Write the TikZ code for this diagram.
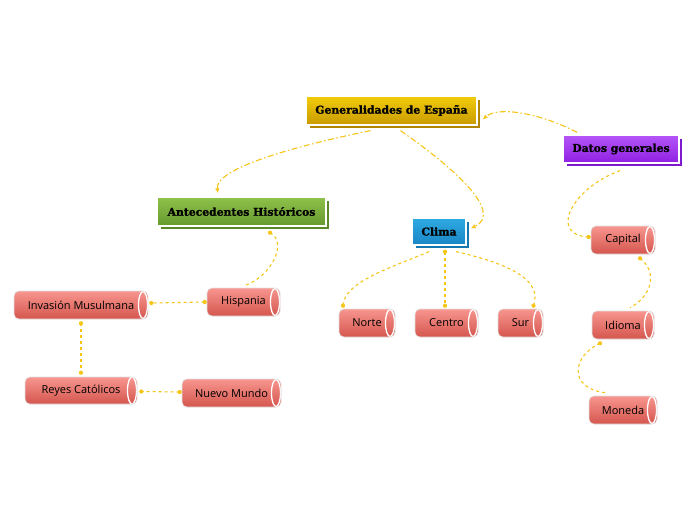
\documentclass[tikz,border=0pt]{standalone}
\usepackage{fontspec}
\setmainfont{DejaVu Serif}
\newfontfamily\hdrfont[FakeBold=1.3]{DejaVu Serif}
\newfontfamily\cylfont{Open Sans}
\usetikzlibrary{shadows,arrows.meta,calc}
\definecolor{link}{HTML}{F5C518}
\definecolor{goldT}{HTML}{F2CC0A}
\definecolor{goldB}{HTML}{C99A00}
\definecolor{goldS}{HTML}{B08600}
\definecolor{greenT}{HTML}{8EC24A}
\definecolor{greenB}{HTML}{66982E}
\definecolor{greenS}{HTML}{5A8A28}
\definecolor{blueT}{HTML}{2EAAE2}
\definecolor{blueB}{HTML}{1A86C6}
\definecolor{blueS}{HTML}{1676B0}
\definecolor{purT}{HTML}{B556F8}
\definecolor{purB}{HTML}{8F1FE2}
\definecolor{purS}{HTML}{7E18CC}
\definecolor{cylT}{HTML}{F7968F}
\definecolor{cylB}{HTML}{D4564E}
\tikzset{
  hdr/.style n args={3}{rectangle, draw=white, line width=1.3pt, inner sep=0pt,
    top color=#1, bottom color=#2,
    general shadow={fill=#3, draw=white, line width=1pt, shadow xshift=3pt, shadow yshift=-3pt},
    font=\hdrfont\bfseries\fontsize{10.8}{12}\selectfont},
  cyl/.style={rectangle, rounded corners=5pt, draw=white!88!black, line width=0.6pt,
    top color=cylT, bottom color=cylB, inner sep=0pt, minimum height=28pt,
    font=\cylfont\fontsize{11}{13}\selectfont,
    path picture={\draw[white,line width=1.3pt] ([xshift=-5pt]path picture bounding box.east) ellipse [x radius=4.5pt, y radius=13.5pt];}},
  conn/.style={draw=link, line width=1.1pt, dash pattern=on 6pt off 2.5pt on 1.5pt off 2.5pt},
  arr/.style={-{Latex[length=5pt,width=4.5pt]}},
  dot/.style={circle, fill=link, inner sep=0pt, minimum size=4.2pt},
  sub/.style={draw=link, line width=1.1pt, dash pattern=on 3pt off 3pt}
}
\begin{document}
\begin{tikzpicture}[x=1pt,y=-1pt]
\fill[white] (0,0) rectangle (696,520);
\useasboundingbox (0,0) rectangle (696,520);

% header nodes
\node[hdr={goldT}{goldB}{goldS}, minimum width=171pt, minimum height=29pt] (main) at (391.5,110.5) {Generalidades de España};
\node[hdr={greenT}{greenB}{greenS}, minimum width=169pt, minimum height=29pt] (ant) at (241.5,211.5) {Antecedentes Históricos};
\node[hdr={blueT}{blueB}{blueS}, minimum width=54pt, minimum height=27pt] (clima) at (439,231.5) {Clima};
\node[hdr={purT}{purB}{purS}, minimum width=116pt, minimum height=28pt] (datos) at (621,149) {Datos generales};

% cylinders
\node[cyl, minimum width=73pt] (hisp) at (243.5,302) {Hispania\hspace{6pt}};
\node[cyl, minimum width=134pt] (inv) at (81,305) {Invasión Musulmana\hspace{6pt}};
\node[cyl, minimum width=112pt, minimum height=27pt] (rey) at (81,390.5) {Reyes Católicos\hspace{6pt}};
\node[cyl, minimum width=99pt] (nuevo) at (231.5,393) {Nuevo Mundo\hspace{6pt}};
\node[cyl, minimum width=56pt] (norte) at (367,323) {Norte\hspace{6pt}};
\node[cyl, minimum width=63pt] (centro) at (446.5,323) {Centro\hspace{6pt}};
\node[cyl, minimum width=45pt] (sur) at (520.5,323) {Sur\hspace{6pt}};
\node[cyl, minimum width=64pt] (cap) at (623,240) {Capital\hspace{6pt}};
\node[cyl, minimum width=62pt] (idi) at (623,325) {Idioma\hspace{6pt}};
\node[cyl, minimum width=68pt] (mon) at (623,410) {Moneda\hspace{6pt}};

% main connectors
\draw[conn, arr] ($(main.south)+(-21,5)$) .. controls (300,145) and (214,168) .. ($(ant.north)+(-23.5,-3)$);
\draw[conn, arr] ($(main.south)+(9,5)$) .. controls (450,165) and (505,212) .. ($(clima.east)+(4,-3)$);
\draw[conn, arr] ($(datos.north)+(-44,-2)$) .. controls (540,113) and (498,106) .. ($(main.east)+(5,9)$);

% endpoint coordinates of sub connectors
\coordinate (a1) at ($(ant.south)+(28.5,6)$);
\coordinate (a2) at ($(hisp.north)+(1,-2)$);
\coordinate (h1) at ($(hisp.west)+(-2,0)$);
\coordinate (i1) at ($(inv.east)+(3,-2)$);
\coordinate (i2) at ($(inv.south)+(0,4)$);
\coordinate (r1) at ($(rey.north)+(0,-4)$);
\coordinate (n1) at ($(nuevo.west)+(-2,-1)$);
\coordinate (r2) at ($(rey.east)+(4,1)$);
\coordinate (c1) at ($(clima.south)+(-10,6)$);
\coordinate (no1) at ($(norte.north)+(-24,-3)$);
\coordinate (c2) at ($(clima.south)+(6,6)$);
\coordinate (ce1) at ($(centro.north)+(-1.5,-3)$);
\coordinate (c3) at ($(clima.south)+(17,6)$);
\coordinate (s1) at ($(sur.north)+(13,-3)$);
\coordinate (d1) at ($(datos.south)+(-1,7)$);
\coordinate (ca1) at ($(cap.west)+(-2,-3)$);
\coordinate (ca2) at ($(cap.south)+(17,4)$);
\coordinate (id1) at ($(idi.north)+(7,-3)$);
\coordinate (id2) at ($(idi.south)+(-23,4)$);
\coordinate (mo1) at ($(mon.north)+(-18,-3)$);

% sub connectors
\draw[sub] (a1) .. controls (288,242) and (272,276) .. (a2);
\draw[sub] (h1) -- (i1);
\draw[sub] (i2) -- (r1);
\draw[sub] (n1) -- (r2);
\draw[sub] (c1) .. controls (390,268) and (344,282) .. (no1);
\draw[sub] (c2) -- (ce1);
\draw[sub] (c3) .. controls (515,265) and (542,282) .. (s1);
\draw[sub] (d1) .. controls (572,188) and (548,235) .. (ca1);
\draw[sub] (ca2) .. controls (658,272) and (652,296) .. (id1);
\draw[sub] (id2) .. controls (572,356) and (568,388) .. (mo1);

% end dots
\foreach \p in {a1,h1,i1,i2,r1,n1,r2,c2,ce1,no1,s1,ca1,ca2,id2}
  \node[dot] at (\p) {};
\end{tikzpicture}
\end{document}
